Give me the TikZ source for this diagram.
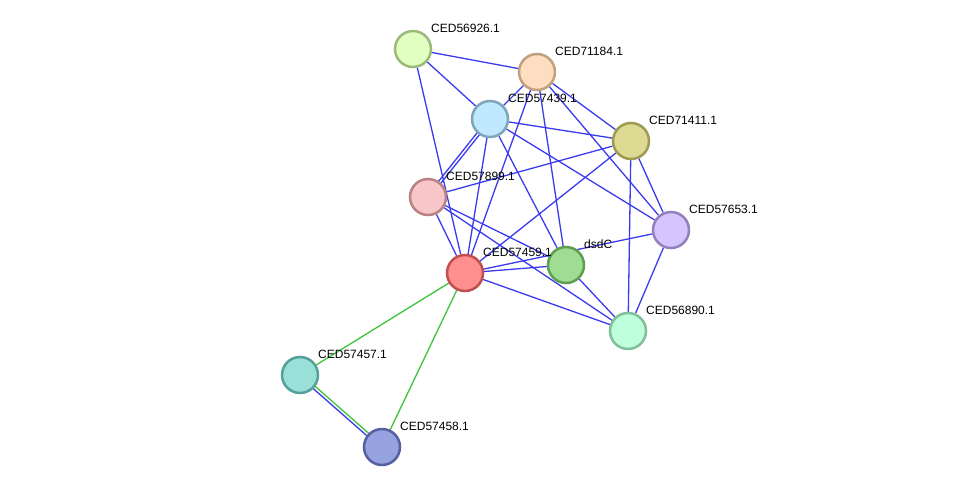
\documentclass[tikz,border=0pt]{standalone}
\usepackage{fontspec}
\setmainfont{Liberation Sans}
\usetikzlibrary{positioning, calc, backgrounds}
\definecolor{ppiblue}{RGB}{58,58,238}
\definecolor{ppigreen}{RGB}{60,196,60}
\definecolor{f56926}{RGB}{224,255,192}\definecolor{d56926}{RGB}{157,185,122}
\definecolor{f71184}{RGB}{255,221,192}\definecolor{d71184}{RGB}{191,160,127}
\definecolor{f57439}{RGB}{192,232,255}\definecolor{d57439}{RGB}{127,165,187}
\definecolor{f71411}{RGB}{221,218,148}\definecolor{d71411}{RGB}{158,154,82}
\definecolor{f57899}{RGB}{246,198,200}\definecolor{d57899}{RGB}{185,130,132}
\definecolor{f57653}{RGB}{212,196,255}\definecolor{d57653}{RGB}{146,128,188}
\definecolor{fdsdC}{RGB}{159,221,147}\definecolor{ddsdC}{RGB}{94,158,82}
\definecolor{f57459}{RGB}{255,143,143}\definecolor{d57459}{RGB}{192,80,80}
\definecolor{f56890}{RGB}{192,255,220}\definecolor{d56890}{RGB}{127,191,154}
\definecolor{f57457}{RGB}{152,224,216}\definecolor{d57457}{RGB}{85,160,152}
\definecolor{f57458}{RGB}{151,162,224}\definecolor{d57458}{RGB}{86,96,160}
\tikzstyle{prot}=[circle,draw,line width=2.5pt,minimum size=36pt,inner sep=0pt]
\tikzstyle{lbl}=[inner sep=0pt,font=\fontsize{12}{14}\selectfont]
\tikzstyle{ppi}=[draw=ppiblue,line width=1.3pt]
\tikzstyle{gppi}=[draw=ppigreen,line width=1.3pt]

\begin{document}
\begin{tikzpicture}[x=1pt,y=-1pt]
    \useasboundingbox (0,0) rectangle (975,493);

    % proteins
    \node[prot, fill=f56926, draw=d56926] (n56926) at (413,49) {};
    \node[prot, fill=f71184, draw=d71184] (n71184) at (537,72) {};
    \node[prot, fill=f57439, draw=d57439] (n57439) at (490,119) {};
    \node[prot, fill=f71411, draw=d71411] (n71411) at (631,141) {};
    \node[prot, fill=f57899, draw=d57899] (n57899) at (428,197) {};
    \node[prot, fill=f57653, draw=d57653] (n57653) at (671,230) {};
    \node[prot, fill=fdsdC, draw=ddsdC] (ndsdC) at (566,265) {};
    \node[prot, fill=f57459, draw=d57459] (n57459) at (465,273) {};
    \node[prot, fill=f56890, draw=d56890] (n56890) at (628,331) {};
    \node[prot, fill=f57457, draw=d57457] (n57457) at (300,375) {};
    \node[prot, fill=f57458, draw=d57458] (n57458) at (382,447) {};

    % names
    \node[lbl, right=18pt of n56926.center, yshift=21pt] (l56926) {CED56926.1};
    \node[lbl, right=18pt of n71184.center, yshift=21pt] (l71184) {CED71184.1};
    \node[lbl, right=18pt of n57439.center, yshift=21pt] (l57439) {CED57439.1};
    \node[lbl, right=18pt of n71411.center, yshift=21pt] (l71411) {CED71411.1};
    \node[lbl, right=18pt of n57899.center, yshift=21pt] (l57899) {CED57899.1};
    \node[lbl, right=18pt of n57653.center, yshift=21pt] (l57653) {CED57653.1};
    \node[lbl, right=18pt of ndsdC.center, yshift=21pt] (ldsdC) {dsdC};
    \node[lbl, right=18pt of n57459.center, yshift=21pt] (l57459) {CED57459.1};
    \node[lbl, right=18pt of n56890.center, yshift=21pt] (l56890) {CED56890.1};
    \node[lbl, right=18pt of n57457.center, yshift=21pt] (l57457) {CED57457.1};
    \node[lbl, right=18pt of n57458.center, yshift=21pt] (l57458) {CED57458.1};

    % interactions
    \begin{scope}[on background layer]
        \draw[ppi] (n56926) -- (n71184);
        \draw[ppi] (n56926) -- (n57439);
        \draw[ppi] (n56926) -- (n57459);
        \draw[ppi] (n71184) -- (n57439);
        \draw[ppi] (n71184) -- (n57459);
        \draw[ppi] (n71184) -- (ndsdC);
        \draw[ppi] (n71184) -- (n57653);
        \draw[ppi] (n71184) -- (n71411);
        \draw[ppi] (n57439) -- (n71411);
        \draw[ppi] (n57439) -- (n57653);
        \draw[ppi] (n57439) -- (ndsdC);
        \draw[ppi] (n57439) -- (n57459);
        \draw[ppi] ($(n57439.center)!1.5pt!90:(n57899.center)$) -- ($(n57899.center)!1.5pt!-90:(n57439.center)$);
        \draw[ppi] ($(n57439.center)!1.5pt!-90:(n57899.center)$) -- ($(n57899.center)!1.5pt!90:(n57439.center)$);
        \draw[ppi] (n57899) -- (n71411);
        \draw[ppi] (n57899) -- (n57459);
        \draw[ppi] (n57899) -- (ndsdC);
        \draw[ppi] (n57899) -- (n56890);
        \draw[ppi] (n57459) -- (n71411);
        \draw[ppi] (n57459) -- (ndsdC);
        \draw[ppi] (n57459) -- (n57653);
        \draw[ppi] (n57459) -- (n56890);
        \draw[ppi] (ndsdC) -- (n56890);
        \draw[ppi] (n71411) -- (n56890);
        \draw[ppi] (n71411) -- (n57653);
        \draw[ppi] (n57653) -- (n56890);
        \draw[gppi] (n57459) -- (n57457);
        \draw[gppi] (n57459) -- (n57458);
        \draw[gppi] ($(n57457.center)!1.5pt!90:(n57458.center)$) -- ($(n57458.center)!1.5pt!-90:(n57457.center)$);
        \draw[ppi] ($(n57457.center)!1.5pt!-90:(n57458.center)$) -- ($(n57458.center)!1.5pt!90:(n57457.center)$);
    \end{scope}
\end{tikzpicture}
\end{document}
